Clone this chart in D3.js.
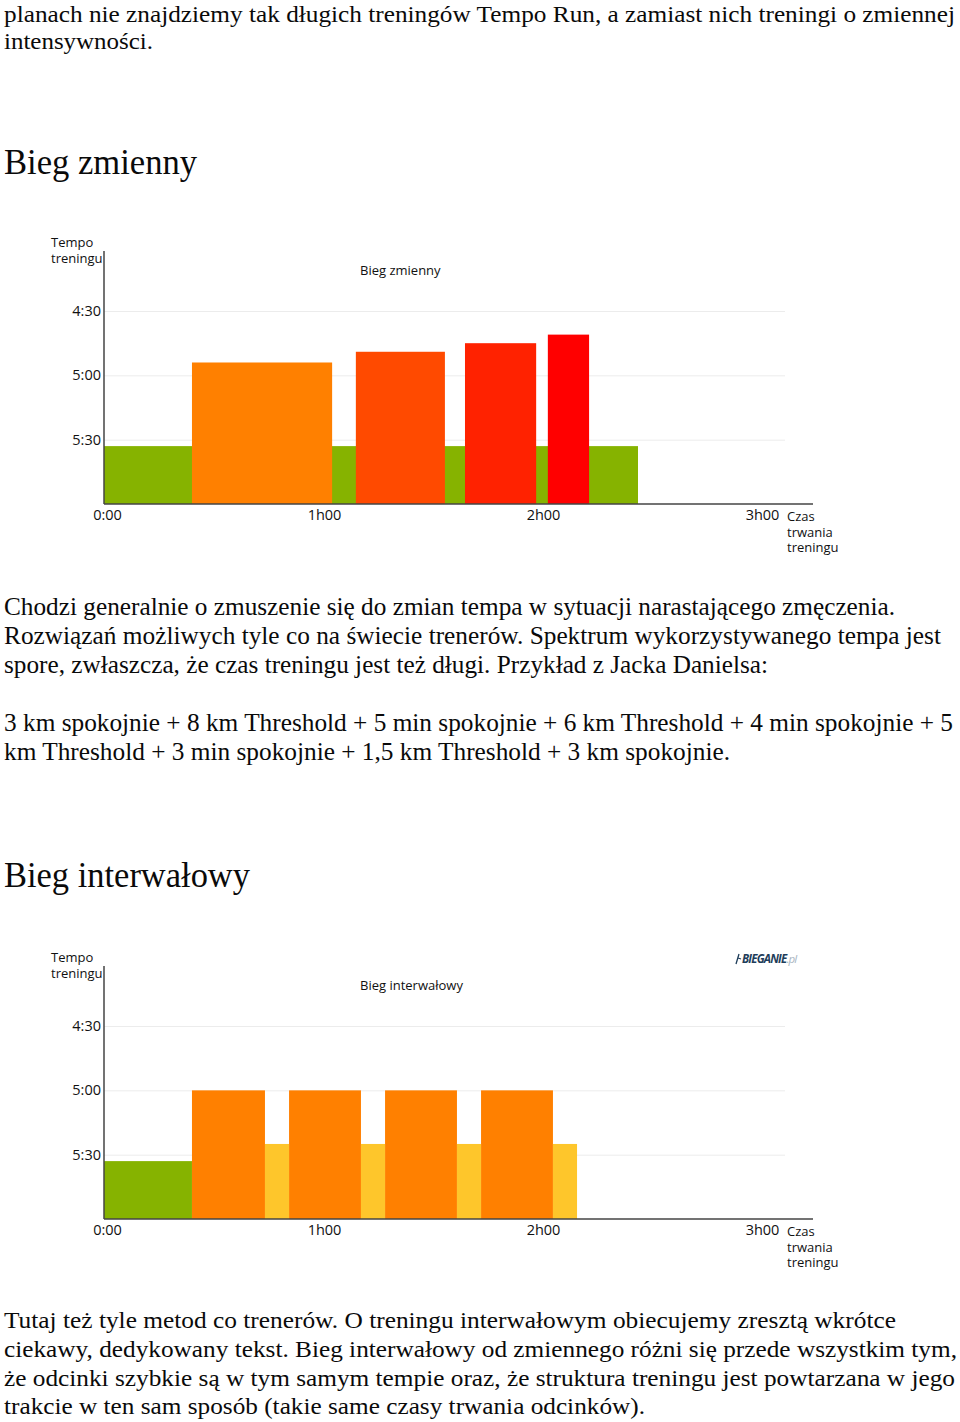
<!DOCTYPE html>
<html>
<head>
<meta charset="utf-8">
<script src="https://cdn.jsdelivr.net/npm/d3@7"></script>
<style>
  html, body { margin: 0; padding: 0; background: #fff; }
  svg { display: block; }
</style>
</head>
<body>
<svg id="page" width="960" height="1422"></svg>
<script>
// ---------- DATA ----------
// Chart 1: Bieg zmienny — segments [start min, end min, pace sec/km]
const zmiennyWarmup = [[0, 146.3, 333]];          // green base (easy pace)
const zmiennyStart = [24.1, 69.0, 98.9, 121.6];   // start minutes of fast segments
const zmiennyEnd   = [62.5, 93.4, 118.4, 132.9];  // end minutes of fast segments
const zmiennyPace  = [294, 289, 285, 281];        // pace sec/km
const zmiennyColors = ["#ff8000", "#ff4a00", "#ff2200", "#ff0000"];

// Chart 2: Bieg interwałowy
const interwalWarm = [[0, 24.1, 333]];
const interwalFastStart = [24.1, 50.7, 77.0, 103.3];
const interwalFastEnd   = [44.1, 70.4, 96.7, 123.0];
const interwalFastPace  = [300, 300, 300, 300];
const interwalSlowStart = [44.1, 70.4, 96.7, 123.0];
const interwalSlowEnd   = [50.7, 77.0, 103.3, 129.6];
const interwalSlowPace  = [325, 325, 325, 325];

const yTicks = [270, 300, 330];
const yTickLabels = ["4:30", "5:00", "5:30"];
const xTicks = [0, 60, 120, 180];
const xTickLabels = ["0:00", "1h00", "2h00", "3h00"];

// Text content
const para1 = [
  ["planach nie znajdziemy tak długich treningów Tempo Run, a zamiast nich treningi o zmiennej", 21.5, 951],
  ["intensywności.", 48.5, 149]
];
const heading1 = ["Bieg zmienny", 174, 193];
const para2 = [
  ["Chodzi generalnie o zmuszenie się do zmian tempa w sytuacji narastającego zmęczenia.", 615, 891],
  ["Rozwiązań możliwych tyle co na świecie trenerów. Spektrum wykorzystywanego tempa jest", 644, 937],
  ["spore, zwłaszcza, że czas treningu jest też długi. Przykład z Jacka Danielsa:", 673, 764],
  ["3 km spokojnie + 8 km Threshold + 5 min spokojnie + 6 km Threshold + 4 min spokojnie + 5", 731, 949],
  ["km Threshold + 3 min spokojnie + 1,5 km Threshold + 3 km spokojnie.", 760, 726]
];
const heading2 = ["Bieg interwałowy", 887, 246];
const para4 = [
  ["Tutaj też tyle metod co trenerów. O treningu interwałowym obiecujemy zresztą wkrótce", 1328, 892],
  ["ciekawy, dedykowany tekst. Bieg interwałowy od zmiennego różni się przede wszystkim tym,", 1357, 953],
  ["że odcinki szybkie są w tym samym tempie oraz, że struktura treningu jest powtarzana w jego", 1386, 951],
  ["trakcie w ten sam sposób (takie same czasy trwania odcinków).", 1414, 641]
];

// ---------- DRAWING ----------
const svg = d3.select("#page");
const serif = "'Liberation Serif', 'Times New Roman', serif";
const sans = "'Open Sans', 'Noto Sans', sans-serif";

function textLines(lines, size) {
  lines.forEach(([t, y, w]) => {
    svg.append("text")
      .attr("x", 4).attr("y", y)
      .attr("font-family", serif)
      .attr("font-size", size)
      .attr("fill", "#0a0a0a")
      .attr("textLength", w)
      .attr("lengthAdjust", "spacingAndGlyphs")
      .text(t);
  });
}
textLines(para1, 24);
textLines([heading1], 35);
textLines(para2, 24.5);
textLines([heading2], 35);
textLines(para4, 23.5);

function toSegs(s, e, p, c) {
  return s.map((d, i) => ({ start: d, end: e[i], pace: p[i], color: Array.isArray(c) ? c[i] : c }));
}

function drawChart(offsetY, title, layers, logo) {
  const g = svg.append("g").attr("transform", `translate(0,${offsetY})`);
  const x = d3.scaleLinear().domain([0, 180]).range([104, 761]);
  const y = d3.scaleLinear().domain([242, 360]).range([251, 504]);

  // gridlines
  g.append("g").selectAll("line").data(yTicks).join("line")
    .attr("x1", 104).attr("x2", 785)
    .attr("y1", d => y(d) + 0.5).attr("y2", d => y(d) + 0.5)
    .attr("stroke", "#ececec").attr("stroke-width", 1);

  // bars
  layers.forEach(segs => {
    g.append("g").selectAll("rect").data(segs).join("rect")
      .attr("x", d => x(d.start))
      .attr("width", d => x(d.end) - x(d.start))
      .attr("y", d => y(d.pace))
      .attr("height", d => y(360) - y(d.pace))
      .attr("fill", d => d.color);
  });

  // axes
  const xAxis = d3.axisBottom(x).tickValues(xTicks).tickFormat((d, i) => xTickLabels[i]).tickSize(0).tickPadding(6);
  const xa = g.append("g").attr("transform", `translate(0,${y(360)})`).call(xAxis);
  xa.select(".domain").remove();
  xa.selectAll("text").attr("font-family", sans).attr("font-size", 14.5).attr("fill", "#111")
    .attr("dx", (d, i) => i === 0 ? 3 : 1);
  g.append("line").attr("x1", 104).attr("x2", 813).attr("y1", y(360)).attr("y2", y(360))
    .attr("stroke", "#444").attr("stroke-width", 1.5);

  const yAxis = d3.axisLeft(y).tickValues(yTicks).tickFormat((d, i) => yTickLabels[i]).tickSize(0).tickPadding(3);
  const ya = g.append("g").attr("transform", "translate(104,0)").call(yAxis);
  ya.select(".domain").remove();
  ya.selectAll("text").attr("font-family", sans).attr("font-size", 14.5).attr("fill", "#111");
  g.append("line").attr("x1", 104).attr("x2", 104).attr("y1", 251).attr("y2", y(360))
    .attr("stroke", "#444").attr("stroke-width", 1.5);

  // axis titles
  const yt = g.append("text").attr("font-family", sans).attr("font-size", 13).attr("fill", "#111");
  yt.append("tspan").attr("x", 51).attr("y", 247).text("Tempo");
  yt.append("tspan").attr("x", 51).attr("y", 263).text("treningu");

  const xt = g.append("text").attr("font-family", sans).attr("font-size", 13).attr("fill", "#111");
  ["Czas", "trwania", "treningu"].forEach((t, i) =>
    xt.append("tspan").attr("x", 787).attr("y", 521 + i * 15.5).text(t));

  g.append("text").attr("x", 360).attr("y", 275)
    .attr("font-family", sans).attr("font-size", 13).attr("fill", "#111").text(title);

  if (logo) {
    const lg = g.append("g").attr("transform", "translate(736,248)");
    lg.append("path").attr("d", "M3,-9 L0,1 M2,-5 L5,-4").attr("stroke", "#1e3d5a").attr("stroke-width", 1.3).attr("fill", "none");
    const lt = lg.append("text").attr("x", 6).attr("y", 0)
      .attr("font-family", "'Open Sans', sans-serif").attr("font-size", 11.5)
      .attr("font-style", "italic").attr("font-weight", "bold").attr("letter-spacing", -0.8);
    lt.append("tspan").attr("fill", "#1e3d5a").text("BIEGANIE");
    lt.append("tspan").attr("fill", "#a9b6c2").attr("font-weight", "normal").text(".pl");
  }
}

drawChart(0, "Bieg zmienny", [
  zmiennyWarmup.map(d => ({ start: d[0], end: d[1], pace: d[2], color: "#86b300" })),
  toSegs(zmiennyStart, zmiennyEnd, zmiennyPace, zmiennyColors)
], false);

drawChart(715, "Bieg interwałowy", [
  interwalWarm.map(d => ({ start: d[0], end: d[1], pace: d[2], color: "#86b300" })),
  toSegs(interwalFastStart, interwalFastEnd, interwalFastPace, "#ff8000"),
  toSegs(interwalSlowStart, interwalSlowEnd, interwalSlowPace, "#fec62b")
], true);
</script>
</body>
</html>
